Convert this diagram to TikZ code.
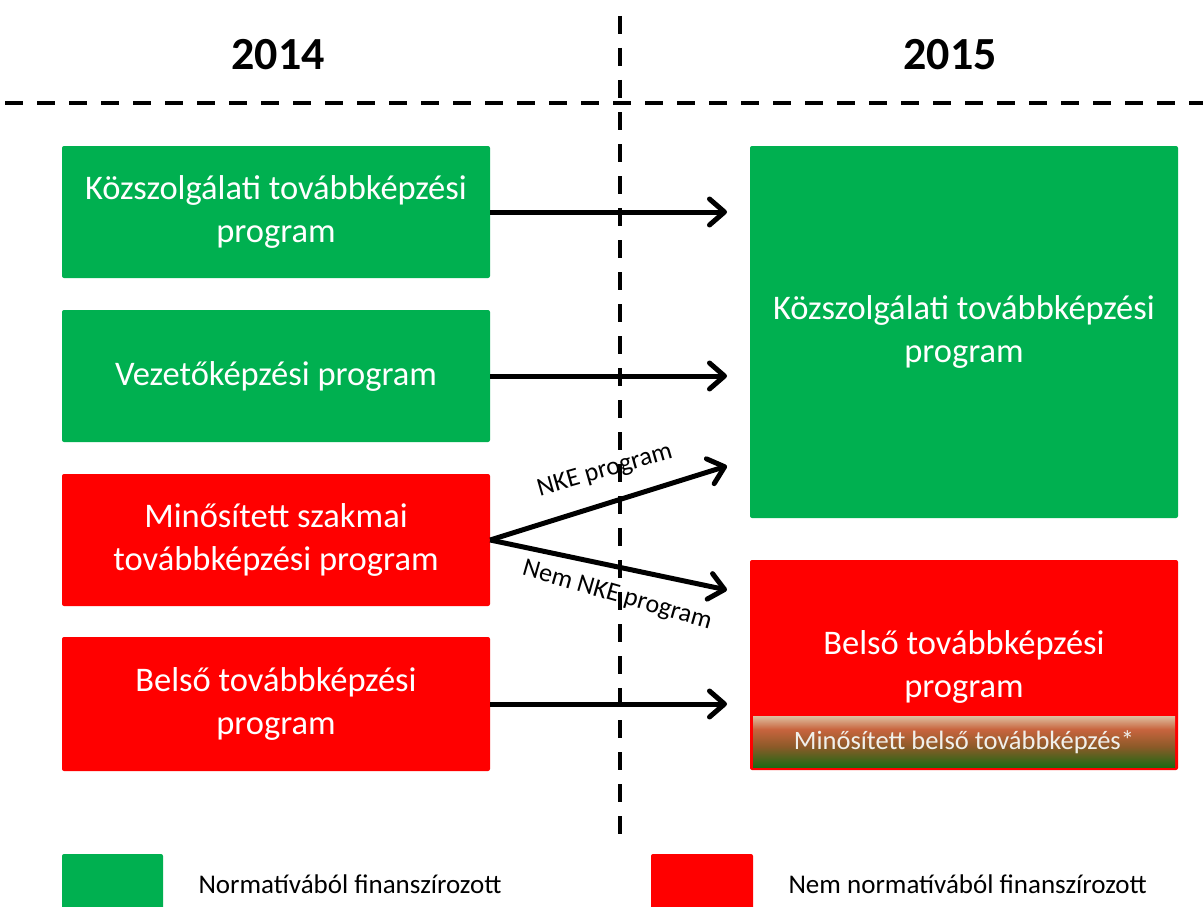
\documentclass[tikz,border=0pt]{standalone}
\usepackage{fontspec}
\setmainfont{Carlito}
\usetikzlibrary{arrows.meta}
\definecolor{pgreen}{HTML}{00B050}
\definecolor{pred}{HTML}{FF0000}
\definecolor{gtan}{RGB}{222,192,160}
\definecolor{gorange}{RGB}{200,100,62}
\definecolor{gbrown}{RGB}{140,90,40}
\definecolor{gdgreen}{RGB}{30,105,20}
\pgfdeclareverticalshading{minograd}{100bp}{color(0bp)=(gdgreen); color(25bp)=(gdgreen); color(45bp)=(gbrown); color(62bp)=(gorange); color(75bp)=(gtan); color(100bp)=(gtan)}
\tikzset{
  box/.style={rectangle, rounded corners=2pt, inner sep=0pt, minimum width=428pt, text=white, align=center, font=\fontsize{34.5}{43}\selectfont},
  gbox/.style={box, fill=pgreen},
  rbox/.style={box, fill=pred},
  year/.style={font=\fontsize{46}{50}\selectfont\bfseries},
  arr/.style={line width=5pt, -{Straight Barb[length=15pt,width=26pt,round]}},
  divline/.style={line width=4.5pt, dash pattern=on 18pt off 14pt},
  arrlabel/.style={font=\fontsize{26}{30}\selectfont, inner sep=1pt},
  legtext/.style={font=\fontsize{27}{30}\selectfont, anchor=west},
}
\begin{document}
\begin{tikzpicture}[x=1pt,y=-1pt]
\useasboundingbox (0,0) rectangle (1203,907);
% divider lines
\coordinate (h1) at (5,103);
\coordinate (h2) at (1203,103);
\coordinate (v1) at (620,16);
\coordinate (v2) at (620,835);
\draw[divline] (h1) -- (h2);
\draw[divline] (v1) -- (v2);
% years
\node[year] (y14) at (278,55) {2014};
\node[year] (y15) at (950,55) {2015};
% left boxes
\node[gbox, minimum height=132pt] (a1) at (276,212) {Közszolgálati továbbképzési\\program};
\node[gbox, minimum height=132pt] (a2) at (276,376) {Vezetőképzési program};
\node[rbox, minimum height=132pt] (a3) at (276,540) {Minősített szakmai\\továbbképzési program};
\node[rbox, minimum height=134pt] (a4) at (276,704) {Belső továbbképzési\\program};
% right boxes
\node[gbox, minimum height=372pt] (b1) at (964,332) {Közszolgálati továbbképzési\\program};
\node[rbox, minimum height=210pt] (b2) at (964,665) {};
\node[box] (b2t) at (964,667) {Belső továbbképzési\\program};
\path[shading=minograd] (753,716) rectangle (1175,767);
\node[font=\fontsize{26.5}{30}\selectfont, text={rgb,255:red,240;green,240;blue,235}] (b3) at (964,742) {Minősített belső továbbképzés*};
% arrow ends
\coordinate (t1) at (727,212);
\coordinate (t2) at (727,376);
\coordinate (t3a) at (727,466);
\coordinate (t3b) at (727,590);
\coordinate (t4) at (727,704);
\draw[arr] (a1.east) -- (t1);
\draw[arr] (a2.east) -- (t2);
\draw[arr] (a3.east) -- (t3a);
\draw[arr] (a3.east) -- (t3b);
\draw[arr] (a4.east) -- (t4);
% arrow labels
\node[arrlabel, rotate=16] (l1) at (605,471) {NKE program};
\node[arrlabel, rotate=-16] (l2) at (617,596) {Nem NKE program};
% legend
\fill[pgreen, rounded corners=2pt] (62,854) rectangle (163,912);
\fill[pred, rounded corners=2pt] (651,854) rectangle (753,912);
\node[legtext] (lg1) at (195,884) {Normatívából finanszírozott};
\node[legtext] (lg2) at (785,884) {Nem normatívából finanszírozott};
\end{tikzpicture}
\end{document}
